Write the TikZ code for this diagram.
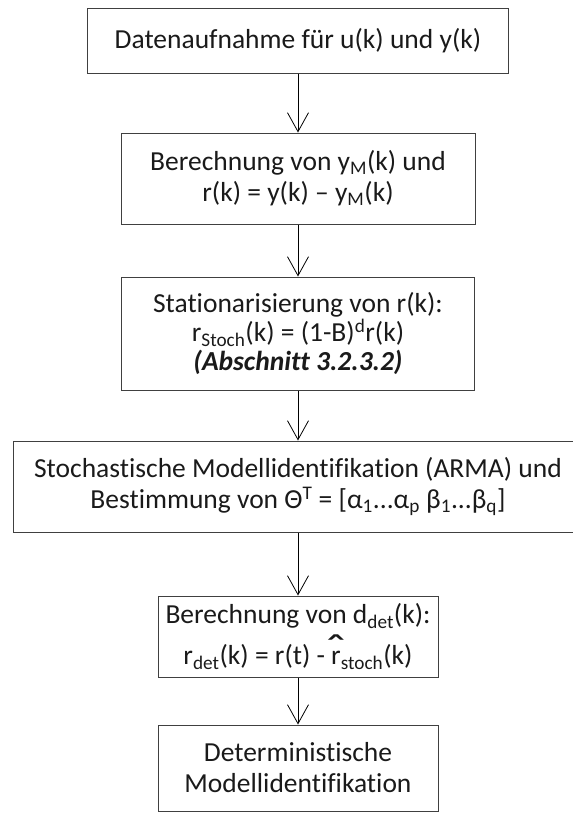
\documentclass[tikz,border=0pt]{standalone}
\usepackage{graphicx}
\usepackage{fontspec}
\setmainfont{Carlito}[Ligatures=NoCommon]
\usetikzlibrary{arrows.meta, positioning}

\newcommand{\tief}[1]{\textsubscript{#1}}
\newcommand{\hoch}[1]{\textsuperscript{#1}}
\newcommand{\dachr}{\ooalign{r\cr\hidewidth\scalebox{2}[1.6]{\symbol{"02C6}}\hidewidth\cr}}

\begin{document}
\begin{tikzpicture}[x=1pt, y=-1pt,
  kasten/.style={draw=rahmen, line width=1pt, align=center, inner sep=0pt,
    font=\fontsize{27.5}{31}\selectfont, text=schrift},
  pfeil/.style={-{Straight Barb[length=19pt, width=21pt]}, line width=0.8pt, draw=black}]
% --- ABLAUF DER MODELLIDENTIFIKATION ---
\definecolor{rahmen}{HTML}{404040}
\definecolor{schrift}{HTML}{1A1A1A}
\clip (0,0) rectangle (573,815);

% SCHRITT 1: Datenaufnahme
\node[kasten, minimum width=421pt, minimum height=65pt] (daten) at (298,40.5) {Datenaufnahme für u(k) und y(k)};

% SCHRITT 2: Modellausgang und Residuum
\node[kasten, minimum width=354pt, minimum height=91pt] (residuum) at (298,178.5) {Berechnung von y\tief{M}(k) und\\ r(k) = y(k) – y\tief{M}(k)};

% SCHRITT 3: Stationarisierung
\node[kasten, minimum width=353pt, minimum height=113pt, font=\fontsize{27.5}{29}\selectfont] (station) at (298,333.5) {Stationarisierung von r(k):\\ r\tief{Stoch}(k) = (1-B)\hoch{d}r(k)\\ \textbf{\textit{(Abschnitt 3.2.3.2)}}};

% SCHRITT 4: ARMA
\node[kasten, minimum width=570pt, minimum height=91pt] (arma) at (298,486.5) {Stochastische Modellidentifikation (ARMA) und\\ Bestimmung von Θ\hoch{T} = [α\tief{1}...α\tief{p} β\tief{1}...β\tief{q}]};

% SCHRITT 5: deterministischer Anteil
\node[kasten, minimum width=280pt, minimum height=81pt] (determ) at (298,636.5) {Berechnung von d\tief{det}(k):\\[10pt] r\tief{det}(k) = r(t) - \dachr\tief{stoch}(k)};

% SCHRITT 6: deterministisches Modell
\node[kasten, minimum width=280pt, minimum height=86pt] (modell) at (298,768) {Deterministische\\ Modellidentifikation};

% PFEILE
\draw[pfeil] (daten) -- (residuum);
\draw[pfeil] (residuum) -- (station);
\draw[pfeil] (station) -- (arma);
\draw[pfeil] (arma) -- (determ);
\draw[pfeil] (determ) -- (modell);
\end{tikzpicture}
\end{document}
